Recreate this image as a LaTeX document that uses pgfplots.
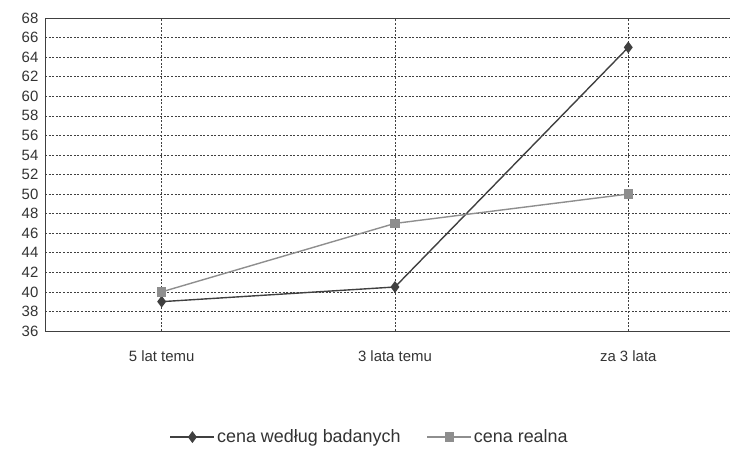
\documentclass[border=0pt]{standalone}
\usepackage{pgfplots}
\pgfplotsset{compat=1.18}
\usepackage{fontspec}
\setmainfont{Liberation Sans}
\definecolor{dark}{HTML}{404040}
\definecolor{lgray}{HTML}{8E8E8E}
\definecolor{txt}{HTML}{333333}
\begin{document}
\begin{tikzpicture}
\path[use as bounding box] (-45bp,-121bp) rectangle (687bp,331bp);
\begin{axis}[
  anchor=south west, at={(0,0)},
  scale only axis, width=685bp, height=313bp,
  xmin=-0.5, xmax=2.436, ymin=36, ymax=68,
  xtick={0,1,2}, xticklabels={5 lat temu,3 lata temu,za 3 lata},
  ytick={36,38,...,68},
  axis lines=left, axis line style={dark, line width=0.9pt, -},
  tick style={draw=none},
  grid=major, grid style={dash pattern=on 2bp off 1.6bp, dark, line width=0.6pt},
  ticklabel style={font=\fontsize{15}{17}\selectfont, text=txt},
  /pgf/number format/assume math mode=true,
  xticklabel style={yshift=-14bp},
  yticklabel style={xshift=-1bp},
  clip=false,
  legend columns=2,
  legend style={draw=none, at={(rel axis cs:0.474,-0.339)}, anchor=center,
    font=\fontsize{18}{20}\selectfont, text=txt,
    /tikz/every even column/.append style={column sep=24bp}},
  legend image code/.code={\draw[mark repeat=2,mark phase=2] plot coordinates {(0bp,0bp)(22bp,0bp)(44bp,0bp)};},
]
\draw[dark, line width=0.9pt] (rel axis cs:0,1) -- (rel axis cs:1,1);
\addplot[dark, line width=1.4pt, mark=diamond*, mark size=4.8bp, mark options={solid, fill=dark}] coordinates {(0,39) (1,40.5) (2,65)};
\addlegendentry{cena według badanych}
\addplot[lgray, line width=1.4pt, mark=square*, mark size=4bp, mark options={solid, fill=lgray}] coordinates {(0,40) (1,47) (2,50)};
\addlegendentry{cena realna}
\end{axis}
\end{tikzpicture}
\end{document}
